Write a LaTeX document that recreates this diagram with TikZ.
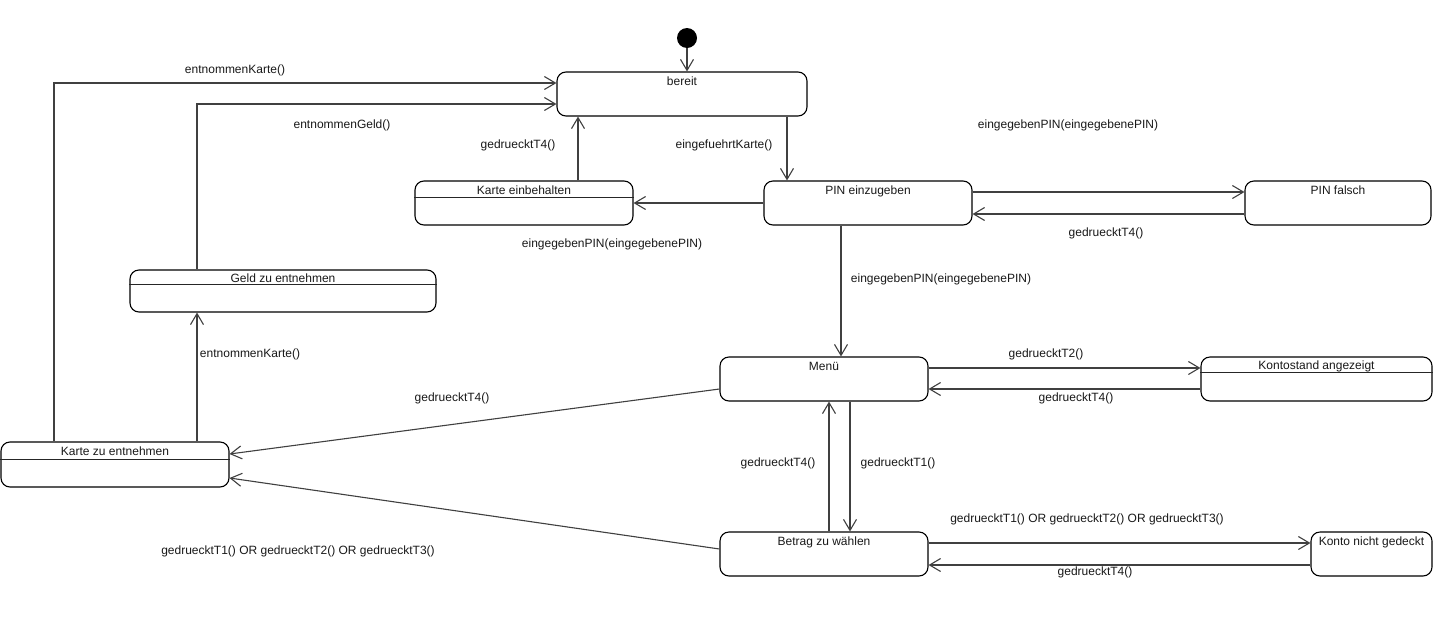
\documentclass[tikz,border=0pt]{standalone}
\usepackage{fontspec}
\setmainfont{Liberation Sans}
\usetikzlibrary{arrows.meta}
\tikzset{
  state/.style={draw=black, line width=1.1pt, rounded corners=9pt, inner sep=0pt},
  boxtxt/.style={anchor=north, inner sep=2pt, font=\fontsize{12}{14}\selectfont, text=black!90},
  lab/.style={inner sep=1pt, font=\fontsize{12}{14}\selectfont, text=black!90},
  arr/.style={draw=black!75, line width=1.1pt, -{Straight Barb[length=11pt,width=13pt,line width=1.1pt]}},
  conn/.style={draw=black!75, line width=1.1pt},
  divider/.style={draw=black!85, line width=0.9pt}
}
\begin{document}
\begin{tikzpicture}[x=1pt,y=-1pt]
\useasboundingbox (0,0) rectangle (1433,619);
\fill[white] (0,0) rectangle (1433,619);

% states
\node[circle, fill=black, minimum size=20pt, inner sep=0pt] (init) at (687,38) {};
\node[state, minimum width=250pt, minimum height=44pt] (bereit) at (682,94) {};
\node[state, minimum width=218pt, minimum height=44pt] (kb) at (524,203) {};
\node[state, minimum width=208pt, minimum height=44pt] (pin) at (868,203) {};
\node[state, minimum width=186pt, minimum height=44pt] (pf) at (1338,203) {};
\node[state, minimum width=208pt, minimum height=44pt] (menu) at (824,379) {};
\node[state, minimum width=231pt, minimum height=44pt] (konto) at (1316.5,379) {};
\node[state, minimum width=208pt, minimum height=44pt] (betrag) at (824,554) {};
\node[state, minimum width=121pt, minimum height=44pt] (kng) at (1371.5,554) {};
\node[state, minimum width=228pt, minimum height=45pt] (kze) at (115,464.5) {};
\node[state, minimum width=306pt, minimum height=42pt] (gze) at (283,291) {};

% state names
\node[boxtxt] (bereitT) at ([yshift=-3.5pt]bereit.north) {bereit};
\node[boxtxt] (kbT) at ([yshift=-3pt]kb.north) {Karte einbehalten};
\node[boxtxt] (pinT) at ([yshift=-3.5pt]pin.north) {PIN einzugeben};
\node[boxtxt] (pfT) at ([yshift=-3.5pt]pf.north) {PIN falsch};
\node[boxtxt] (menuT) at ([yshift=-4pt]menu.north) {Menü};
\node[boxtxt] (kontoT) at ([yshift=-2pt]konto.north) {Kontostand angezeigt};
\node[boxtxt] (betragT) at ([yshift=-3.5pt]betrag.north) {Betrag zu wählen};
\node[boxtxt] (kngT) at ([yshift=-3.5pt]kng.north) {Konto nicht gedeckt};
\node[boxtxt] (kzeT) at ([yshift=-3.5pt]kze.north) {Karte zu entnehmen};
\node[boxtxt] (gzeT) at ([yshift=-2pt]gze.north) {Geld zu entnehmen};

% compartment dividers
\draw[divider] ([yshift=-17pt]kb.north west) -- ([yshift=-17pt]kb.north east);
\draw[divider] ([yshift=-16pt]konto.north west) -- ([yshift=-16pt]konto.north east);
\draw[divider] ([yshift=-18pt]kze.north west) -- ([yshift=-18pt]kze.north east);
\draw[divider] ([yshift=-15pt]gze.north west) -- ([yshift=-15pt]gze.north east);

% helper coordinates
\coordinate (cBP) at ([xshift=105pt]bereit.south);
\coordinate (cKB) at ([xshift=54pt]kb.north);
\coordinate (cPM) at ([xshift=-27pt]pin.south);
\coordinate (cMB) at ([xshift=26pt]menu.south);
\coordinate (cBM) at ([xshift=5pt]betrag.north);
\coordinate (cKG) at ([xshift=82pt]kze.north);
\coordinate (cGB) at ([xshift=-86pt]gze.north);
\coordinate (cKK) at ([xshift=-61pt]kze.north);

% transitions
\draw[arr] (init) -- (init |- bereit.north);
\draw[arr] (cBP) -- (cBP |- pin.north);
\draw[arr] (cKB) -- (cKB |- bereit.south);
\draw[arr] (pin.west) -- (kb.east);
\draw[arr] ([yshift=11pt]pin.east) -- ([yshift=11pt]pf.west);
\draw[arr] ([yshift=-11pt]pf.west) -- ([yshift=-11pt]pin.east);
\draw[arr] (cPM) -- (cPM |- menu.north);
\draw[arr] ([yshift=11pt]menu.east) -- ([yshift=11pt]konto.west);
\draw[arr] ([yshift=-10pt]konto.west) -- ([yshift=-10pt]menu.east);
\draw[arr] (cMB) -- (cMB |- betrag.north);
\draw[arr] (cBM) -- (cBM |- menu.south);
\draw[arr] ([yshift=11pt]betrag.east) -- ([yshift=11pt]kng.west);
\draw[arr] ([yshift=-11pt]kng.west) -- ([yshift=-11pt]betrag.east);
\draw[arr] ([yshift=-10pt]menu.west) -- ([yshift=10.5pt]kze.east);
\draw[arr] ([yshift=5pt]betrag.west) -- ([yshift=-13.5pt]kze.east);
\draw[arr] (cKG) -- (cKG |- gze.south);
\draw[arr] (cGB) |- ([yshift=-10pt]bereit.west);
\draw[arr] (cKK) |- ([yshift=11pt]bereit.west);

% transition labels
\node[lab] (l1) at (235,70) {entnommenKarte()};
\node[lab] (l2) at (342,125) {entnommenGeld()};
\node[lab] (l3) at (518,145) {gedruecktT4()};
\node[lab] (l4) at (724,145) {eingefuehrtKarte()};
\node[lab] (l5) at (1068,125) {eingegebenPIN(eingegebenePIN)};
\node[lab] (l6) at (1106,233) {gedruecktT4()};
\node[lab] (l7) at (612,244) {eingegebenPIN(eingegebenePIN)};
\node[lab] (l8) at (941,279) {eingegebenPIN(eingegebenePIN)};
\node[lab] (l9) at (250,354) {entnommenKarte()};
\node[lab] (l10) at (1046,354) {gedruecktT2()};
\node[lab] (l11) at (1076,398) {gedruecktT4()};
\node[lab] (l12) at (452,398) {gedruecktT4()};
\node[lab] (l13) at (778,463) {gedruecktT4()};
\node[lab] (l14) at (898,463) {gedruecktT1()};
\node[lab] (l15) at (1087,519) {gedruecktT1() OR gedruecktT2() OR gedruecktT3()};
\node[lab] (l16) at (1095,572) {gedruecktT4()};
\node[lab] (l17) at (298,551) {gedruecktT1() OR gedruecktT2() OR gedruecktT3()};
\end{tikzpicture}
\end{document}
